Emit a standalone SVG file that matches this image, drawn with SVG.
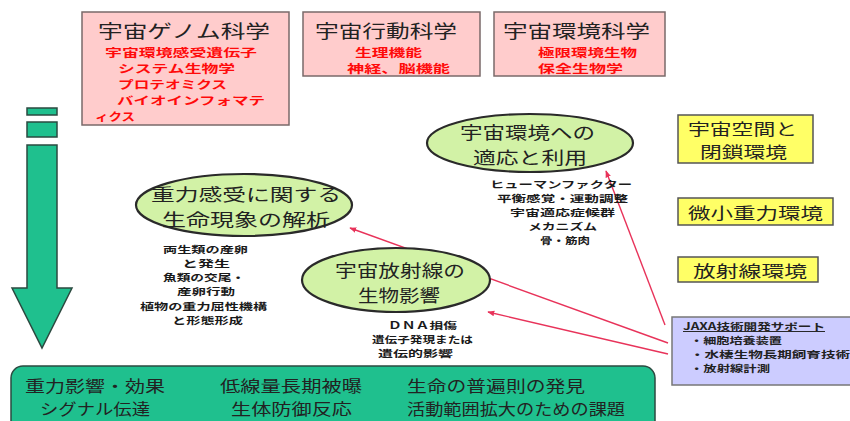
<svg xmlns="http://www.w3.org/2000/svg" width="850" height="421" viewBox="0 0 850 421">
<defs>
<style>
text{font-family:"Noto Sans CJK JP","Noto Sans",sans-serif;dominant-baseline:central}
.pink{fill:#ffcccc;stroke:#7a6a6a;stroke-width:1.5}
.ttl{font-size:18px;fill:#222}
.red{font-size:11px;font-weight:bold;fill:#ff0a0a}
.ell{fill:#d2f2a6;stroke:#2a2a2a;stroke-width:2.2}
.et{font-size:17px;fill:#222}
.sub{font-size:9.6px;font-weight:bold;fill:#1a1a1a}
.yel{fill:#ffff66;stroke:#555;stroke-width:1.5}
.yt{font-size:15.5px;fill:#222}
.grn{fill:#1fc08e;stroke:#2b4a40;stroke-width:1.5}
.bt{font-size:15.5px;fill:#222}
.jx{font-size:9.6px;font-weight:bold;fill:#222}
.con{stroke:#e8335a;stroke-width:1.4;fill:none}
</style>
<marker id="ah" viewBox="0 0 10 10" refX="9" refY="5" markerWidth="7" markerHeight="7" orient="auto-start-reverse" markerUnits="userSpaceOnUse">
<path d="M0,1 L10,5 L0,9 z" fill="#e8335a"/>
</marker>
</defs>
<rect width="850" height="421" fill="#ffffff"/>

<g id="genome">
<rect class="pink" x="82" y="12" width="207" height="113"/>
<text class="ttl" x="98" y="30" textLength="172" lengthAdjust="spacingAndGlyphs">宇宙ゲノム科学</text>
<text class="red" x="105" y="52" textLength="152" lengthAdjust="spacingAndGlyphs">宇宙環境感受遺伝子</text>
<text class="red" x="118" y="68" textLength="117" lengthAdjust="spacingAndGlyphs">システム生物学</text>
<text class="red" x="118" y="84" textLength="109" lengthAdjust="spacingAndGlyphs">プロテオミクス</text>
<text class="red" x="117" y="100" textLength="148" lengthAdjust="spacingAndGlyphs">バイオインフォマテ</text>
<text class="red" x="95" y="116" textLength="40" lengthAdjust="spacingAndGlyphs">ィクス</text>
</g>

<g id="behavior">
<rect class="pink" x="303" y="12" width="177" height="64"/>
<text class="ttl" x="315" y="30" textLength="142" lengthAdjust="spacingAndGlyphs">宇宙行動科学</text>
<text class="red" x="355" y="52" textLength="67" lengthAdjust="spacingAndGlyphs">生理機能</text>
<text class="red" x="347" y="68" textLength="103" lengthAdjust="spacingAndGlyphs">神経、脳機能</text>
</g>

<g id="envsci">
<rect class="pink" x="494" y="12" width="171" height="64"/>
<text class="ttl" x="503" y="30" textLength="147" lengthAdjust="spacingAndGlyphs">宇宙環境科学</text>
<text class="red" x="538" y="52" textLength="99" lengthAdjust="spacingAndGlyphs">極限環境生物</text>
<text class="red" x="538" y="68" textLength="85" lengthAdjust="spacingAndGlyphs">保全生物学</text>
</g>

<g id="arrow">
<rect class="grn" x="27" y="108" width="30" height="7"/>
<rect class="grn" x="27" y="122" width="30" height="15"/>
<path class="grn" d="M27,145 L57,145 L57,288 L72,288 L42,348 L12,288 L27,288 Z"/>
</g>

<g id="connectors">
<line class="con" x1="665" y1="325" x2="606" y2="171" marker-end="url(#ah)"/>
<line class="con" x1="668" y1="343" x2="350" y2="228" marker-end="url(#ah)"/>
<line class="con" x1="668" y1="354" x2="488" y2="312" marker-end="url(#ah)"/>
</g>

<g id="gravity">
<ellipse class="ell" cx="244" cy="205" rx="108" ry="31"/>
<text class="et" x="151" y="193" textLength="190" lengthAdjust="spacingAndGlyphs">重力感受に関する</text>
<text class="et" x="162" y="218" textLength="168" lengthAdjust="spacingAndGlyphs">生命現象の解析</text>
<text class="sub" x="163" y="249" textLength="85" lengthAdjust="spacingAndGlyphs">両生類の産卵</text>
<text class="sub" x="182" y="263" textLength="48" lengthAdjust="spacingAndGlyphs">と発生</text>
<text class="sub" x="163" y="277" textLength="82" lengthAdjust="spacingAndGlyphs">魚類の交尾・</text>
<text class="sub" x="177" y="291" textLength="58" lengthAdjust="spacingAndGlyphs">産卵行動</text>
<text class="sub" x="140" y="306" textLength="127" lengthAdjust="spacingAndGlyphs">植物の重力屈性機構</text>
<text class="sub" x="172" y="320" textLength="71" lengthAdjust="spacingAndGlyphs">と形態形成</text>
</g>

<g id="radiation">
<ellipse class="ell" cx="396" cy="280" rx="94" ry="32"/>
<text class="et" x="335" y="269" textLength="130" lengthAdjust="spacingAndGlyphs">宇宙放射線の</text>
<text class="et" x="358" y="294" textLength="82" lengthAdjust="spacingAndGlyphs">生物影響</text>
<text class="sub" x="388" y="325" textLength="69" lengthAdjust="spacingAndGlyphs">ＤＮＡ損傷</text>
<text class="sub" x="372" y="339" textLength="101" lengthAdjust="spacingAndGlyphs">遺伝子発現または</text>
<text class="sub" x="378" y="353" textLength="75" lengthAdjust="spacingAndGlyphs">遺伝的影響</text>
</g>

<g id="adaptation">
<ellipse class="ell" cx="530" cy="143" rx="103" ry="29"/>
<text class="et" x="460" y="131" textLength="135" lengthAdjust="spacingAndGlyphs">宇宙環境への</text>
<text class="et" x="473" y="156" textLength="114" lengthAdjust="spacingAndGlyphs">適応と利用</text>
<text class="sub" x="490" y="184" textLength="142" lengthAdjust="spacingAndGlyphs">ヒューマンファクター</text>
<text class="sub" x="497" y="198" textLength="131" lengthAdjust="spacingAndGlyphs">平衡感覚・運動調整</text>
<text class="sub" x="510" y="212" textLength="105" lengthAdjust="spacingAndGlyphs">宇宙適応症候群</text>
<text class="sub" x="528" y="226" textLength="69" lengthAdjust="spacingAndGlyphs">メカニズム</text>
<text class="sub" x="540" y="240" textLength="50" lengthAdjust="spacingAndGlyphs">骨・筋肉</text>
</g>

<g id="space">
<rect class="yel" x="678" y="115" width="135" height="48"/>
<text class="yt" x="688" y="128" textLength="109" lengthAdjust="spacingAndGlyphs">宇宙空間と</text>
<text class="yt" x="700" y="151" textLength="87" lengthAdjust="spacingAndGlyphs">閉鎖環境</text>
</g>

<g id="microg">
<rect class="yel" x="678" y="198" width="155" height="27"/>
<text class="yt" x="688" y="212" textLength="135" lengthAdjust="spacingAndGlyphs">微小重力環境</text>
</g>

<g id="radenv">
<rect class="yel" x="678" y="257" width="140" height="25"/>
<text class="yt" x="693" y="270" textLength="114" lengthAdjust="spacingAndGlyphs">放射線環境</text>
</g>

<g id="jaxa">
<rect x="672" y="317" width="182" height="68" fill="#ccccff" stroke="#777" stroke-width="1.5"/>
<text class="jx" x="683" y="326" textLength="142" lengthAdjust="spacingAndGlyphs" text-decoration="underline">JAXA技術開発サポート</text>
<text class="jx" x="690" y="340" textLength="92" lengthAdjust="spacingAndGlyphs">・細胞培養装置</text>
<text class="jx" x="690" y="354" textLength="160" lengthAdjust="spacingAndGlyphs">・水棲生物長期飼育技術</text>
<text class="jx" x="690" y="368" textLength="80" lengthAdjust="spacingAndGlyphs">・放射線計測</text>
</g>

<g id="results">
<rect class="grn" x="11" y="366" width="644" height="70" rx="12" ry="12"/>
<text class="bt" x="25" y="385" textLength="140" lengthAdjust="spacingAndGlyphs">重力影響・効果</text>
<text class="bt" x="40" y="408" textLength="110" lengthAdjust="spacingAndGlyphs">シグナル伝達</text>
<text class="bt" x="220" y="385" textLength="142" lengthAdjust="spacingAndGlyphs">低線量長期被曝</text>
<text class="bt" x="231" y="408" textLength="121" lengthAdjust="spacingAndGlyphs">生体防御反応</text>
<text class="bt" x="407" y="385" textLength="178" lengthAdjust="spacingAndGlyphs">生命の普遍則の発見</text>
<text class="bt" x="407" y="408" textLength="218" lengthAdjust="spacingAndGlyphs">活動範囲拡大のための課題</text>
</g>
</svg>
